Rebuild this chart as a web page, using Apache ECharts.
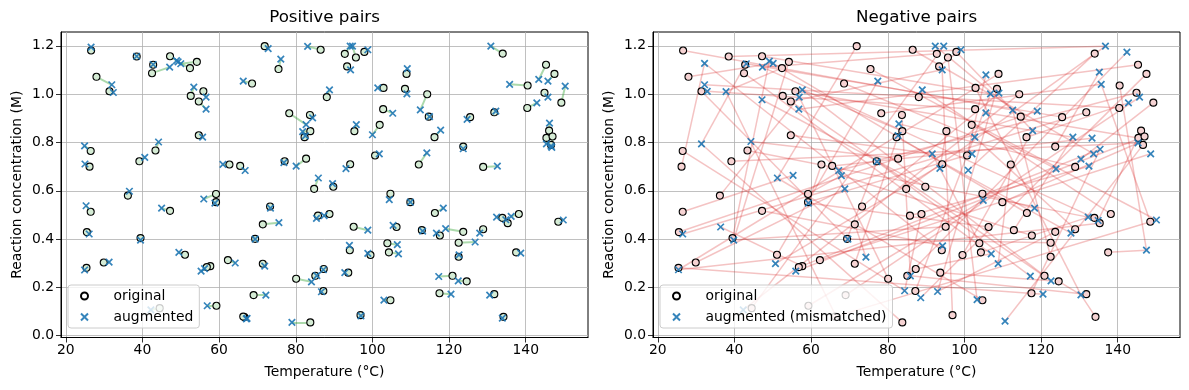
<!DOCTYPE html>
<html><head><meta charset="utf-8">
<script src="https://cdn.jsdelivr.net/npm/echarts@6/dist/echarts.min.js"></script>
<style>html,body{margin:0;padding:0;background:#fff}#c{width:1189px;height:390px}</style>
</head><body><div id="c"></div>
<script>
// ---- data ----
const origX = [26.6,28.0,31.4,38.5,42.8,42.5,47.2,52.4,54.2,52.6,54.7,55.9,54.7,26.5,26.2,39.2,43.4,36.2,59.2,62.7,
71.9,75.5,68.6,86.5,92.8,95.7,97.9,93.4,102.9,108.9,88.1,78.3,83.7,83.8,82.3,95.3,101.9,102.8,108.5,100.7,
65.5,77.1,82.7,94.2,84.8,89.8,104.7,134.0,114.3,114.7,116.2,112.1,125.5,131.8,123.7,128.9,140.5,145.3,147.5,144.9,
149.3,140.4,146.1,145.4,147.0,26.5,25.5,25.4,29.9,39.5,47.2,51.1,57.7,56.8,59.2,59.3,44.5,73.3,71.4,69.4,
62.3,71.4,69.0,66.6,66.3,83.8,85.8,88.8,80.1,85.1,87.3,87.2,95.1,94.1,93.7,99.5,96.9,106.3,103.9,104.3,
104.7,109.9,116.3,112.9,117.6,123.7,128.9,122.5,122.5,133.9,135.3,138.2,137.5,148.5,120.9,124.6,117.5,131.8,134.2,146.6];
const origY = [1.181,1.072,1.012,1.156,1.122,1.087,1.157,1.108,1.134,0.993,0.970,1.012,0.830,0.765,0.700,0.722,0.767,0.580,0.587,0.709,
1.199,1.104,1.044,1.184,1.167,1.152,1.175,1.115,1.026,1.084,0.988,0.921,0.914,0.847,0.822,0.847,0.873,0.938,1.022,0.746,
0.703,0.722,0.733,0.710,0.608,0.617,0.588,1.168,1.000,0.907,0.822,0.709,0.905,0.925,0.783,0.699,1.036,1.122,1.084,1.006,
0.965,0.943,0.849,0.819,0.825,0.513,0.429,0.281,0.303,0.404,0.517,0.335,0.288,0.284,0.553,0.124,0.114,0.535,0.461,0.401,
0.313,0.298,0.168,0.077,0.079,0.055,0.497,0.504,0.236,0.248,0.276,0.185,0.451,0.354,0.261,0.334,0.085,0.450,0.383,0.345,
0.147,0.553,0.508,0.437,0.415,0.430,0.441,0.385,0.327,0.488,0.466,0.504,0.345,0.472,0.248,0.225,0.176,0.172,0.078,0.790];
const augX = [26.6,32.0,32.4,38.5,42.8,47.1,48.9,49.3,50.0,53.4,56.6,56.6,55.7,24.9,25.0,40.6,44.2,36.6,56.0,61.0,
72.8,76.1,66.3,83.1,94.2,94.8,98.8,94.3,101.4,109.1,88.8,82.7,84.4,81.8,82.5,95.8,100.0,105.3,109.0,101.8,
66.8,76.9,80.1,93.1,85.9,89.6,104.4,130.9,112.5,114.9,117.8,114.2,124.7,132.2,123.7,132.6,135.8,143.4,145.8,145.8,
150.3,142.9,146.2,145.4,146.8,25.3,26.1,24.9,31.3,39.5,45.0,49.5,55.3,56.2,58.9,56.9,42.2,73.4,75.6,69.4,
64.2,71.9,72.2,67.1,67.3,79.0,85.4,87.4,84.1,85.5,87.2,86.7,98.8,94.0,92.8,98.8,97.0,105.4,106.5,106.8,
103.0,109.9,118.5,113.1,116.7,119.1,128.0,126.8,122.6,132.4,134.8,136.2,138.7,149.8,117.3,122.4,120.5,130.6,133.9,146.6];
const augY = [1.195,1.039,1.007,1.157,1.123,1.112,1.139,1.134,1.126,1.029,0.938,0.988,0.822,0.786,0.711,0.738,0.802,0.598,0.566,0.709,
1.189,1.145,1.054,1.198,1.199,1.199,1.184,1.101,1.026,1.106,1.018,0.874,0.902,0.845,0.827,0.874,0.832,0.921,1.001,0.753,
0.684,0.717,0.702,0.692,0.653,0.630,0.563,1.199,0.935,0.907,0.851,0.757,0.896,0.930,0.774,0.702,1.041,1.061,1.054,0.988,
1.033,0.964,0.880,0.794,0.780,0.538,0.421,0.272,0.305,0.396,0.528,0.345,0.267,0.278,0.549,0.124,0.107,0.528,0.468,0.400,
0.301,0.288,0.168,0.070,0.072,0.055,0.486,0.497,0.223,0.249,0.273,0.182,0.437,0.374,0.261,0.341,0.082,0.457,0.377,0.339,
0.147,0.553,0.528,0.433,0.425,0.443,0.425,0.388,0.335,0.491,0.480,0.494,0.342,0.479,0.245,0.227,0.172,0.168,0.073,0.785];
const negX = [32.2,32.2,32.9,37.8,43.1,47.3,49.1,50.1,47.2,56.9,57.7,56.8,31.4,44.3,51.2,55.3,92.4,94.6,99.1,94.2,
77.4,89.0,82.9,82.7,105.6,106.8,105.6,102.7,102.0,101.0,91.6,93.6,77.2,67.2,67.9,68.8,136.8,142.4,135.2,135.7,
109.0,112.6,119.0,117.8,142.8,145.7,128.3,133.3,135.4,133.7,130.4,132.5,123.9,145.3,148.6,26.5,25.4,36.4,39.8,50.7,
56.0,59.3,42.3,69.6,74.3,85.9,84.4,88.6,93.0,94.3,107.0,108.8,103.3,104.9,118.3,132.3,134.9,127.8,150.1,147.5,
117.2,122.6,120.5,130.4,110.6];
const negY = [1.128,1.039,1.012,1.011,1.126,1.112,1.137,1.128,0.977,0.988,1.018,0.938,0.794,0.804,0.653,0.664,1.199,1.199,1.184,1.101,
1.054,1.018,0.877,0.829,1.080,1.001,0.923,0.822,0.753,0.685,0.753,0.693,0.721,0.684,0.663,0.608,1.199,1.174,1.091,1.041,
1.004,0.934,0.930,0.849,0.964,0.988,0.822,0.818,0.772,0.753,0.731,0.702,0.691,0.798,0.753,0.421,0.273,0.450,0.396,0.298,
0.267,0.549,0.107,0.400,0.325,0.248,0.186,0.157,0.183,0.372,0.339,0.298,0.149,0.560,0.528,0.491,0.477,0.425,0.479,0.354,
0.247,0.227,0.172,0.169,0.060];
const negPair = [41,7,63,36,12,70,25,3,58,81,19,46,30,66,0,53,75,9,34,61,
14,78,27,49,5,72,43,18,83,56,21,39,65,10,77,31,52,2,68,24,
47,80,13,59,36,8,74,29,62,16,44,71,4,55,38,22,79,11,67,33,
50,1,76,26,60,15,42,82,35,6,69,20,57,48,28,73,17,40,64,32,
54,23,45,3,78,12,51,66,9,37,70,25,58,0,81,43,19,61,30,75,
14,53,7,46,34,68,27,63,41,5,56,21,79,39,10,83,48,65,83,84];
const xTicks = [20,40,60,80,100,120,140];
const yTicks = [0.0,0.2,0.4,0.6,0.8,1.0,1.2];
const titles = ['Positive pairs','Negative pairs'];

// ---- build ----
const FONT = 'DejaVu Sans';
const origPts = origX.map((x,i)=>[x,origY[i]]);
const augPts = augX.map((x,i)=>[x,augY[i]]);
const negPts = negX.map((x,i)=>[x,negY[i]]);
const posLines = origX.map((x,i)=>({coords:[[x,origY[i]],[augX[i],augY[i]]]}));
const negLines = origX.map((x,i)=>({coords:[[x,origY[i]],[negX[negPair[i]],negY[negPair[i]]]]}));
const XSYM = 'path://M0,0L10,10M10,0L0,10';
const grids = [{left:61,top:32,width:527,height:305.5},{left:653,top:32,width:527,height:305.5}];

function xAxis(i){return {gridIndex:i,type:'value',min:18.75,max:156.25,
  name:'Temperature (°C)',nameLocation:'middle',nameGap:28,
  nameTextStyle:{fontFamily:FONT,fontSize:13.9,color:'#000'},
  axisLine:{show:true,onZero:false,lineStyle:{color:'#000',width:1}},
  axisTick:{show:true,length:5,lineStyle:{color:'#000',width:0.8},customValues:xTicks},
  axisLabel:{fontFamily:FONT,fontSize:13.9,color:'#000',margin:6,customValues:xTicks,formatter:v=>String(v)},
  splitLine:{show:true,lineStyle:{color:'#b0b0b0',width:0.8}}};}
function yAxis(i){return {gridIndex:i,type:'value',min:-0.0075,max:1.2575,
  name:'Reaction concentration (M)',nameLocation:'middle',nameGap:37,
  nameTextStyle:{fontFamily:FONT,fontSize:13.9,color:'#000'},
  axisLine:{show:true,onZero:false,lineStyle:{color:'#000',width:1}},
  axisTick:{show:true,length:5,lineStyle:{color:'#000',width:0.8},customValues:yTicks},
  axisLabel:{fontFamily:FONT,fontSize:13.9,color:'#000',margin:7,customValues:yTicks,formatter:v=>v.toFixed(1)},
  splitLine:{show:true,lineStyle:{color:'#b0b0b0',width:0.8}}};}

function legend(left,names){return {orient:'vertical',left:left,top:285,padding:[3,6,3,12],itemGap:5,itemWidth:34,itemHeight:7,
  backgroundColor:'rgba(255,255,255,0.8)',borderColor:'#cccccc',borderWidth:1,borderRadius:3,
  textStyle:{fontFamily:FONT,fontSize:13.9,color:'#000',lineHeight:16,padding:[0,0,0,7]},
  data:[{name:names[0],itemStyle:{color:'#fff'}},names[1]]};}

const chart = echarts.init(document.getElementById('c'),null,{renderer:'canvas'});
chart.setOption({
  animation:false,
  grid:grids.map(g=>Object.assign({show:true,borderColor:'#000',borderWidth:1,backgroundColor:'transparent'},g)),
  xAxis:[xAxis(0),xAxis(1)],
  yAxis:[yAxis(0),yAxis(1)],
  graphic:titles.map((t,i)=>({type:'text',x:grids[i].left+grids[i].width/2,y:18,
    style:{text:t,fontFamily:FONT,fontSize:16.7,fill:'#000',textAlign:'center',textVerticalAlign:'middle'}})),
  legend:[legend(68,['original','augmented']),legend(660,['original ','augmented (mismatched)'])],
  series:[
    {type:'lines',coordinateSystem:'cartesian2d',xAxisIndex:0,yAxisIndex:0,silent:true,
     lineStyle:{color:'#2ca02c',opacity:0.4,width:2},data:posLines},
    {type:'scatter',name:'original',xAxisIndex:0,yAxisIndex:0,symbol:'circle',symbolSize:7,
     itemStyle:{color:'#d5ecd5',borderColor:'#000',borderWidth:1.1,opacity:1},data:origPts},
    {type:'scatter',name:'augmented',xAxisIndex:0,yAxisIndex:0,symbol:XSYM,symbolSize:6.5,
     itemStyle:{color:'rgba(0,0,0,0)',borderColor:'#1f77b4',borderWidth:1.7,opacity:0.9},data:augPts},
    {type:'lines',coordinateSystem:'cartesian2d',xAxisIndex:1,yAxisIndex:1,silent:true,
     lineStyle:{color:'#d62728',opacity:0.28,width:1.5},data:negLines},
    {type:'scatter',name:'original ',xAxisIndex:1,yAxisIndex:1,symbol:'circle',symbolSize:7,
     itemStyle:{color:'#f6d3d3',borderColor:'#000',borderWidth:1.1,opacity:1},data:origPts},
    {type:'scatter',name:'augmented (mismatched)',xAxisIndex:1,yAxisIndex:1,symbol:XSYM,symbolSize:6.5,
     itemStyle:{color:'rgba(0,0,0,0)',borderColor:'#1f77b4',borderWidth:1.7,opacity:0.9},data:negPts}
  ]
});
</script></body></html>
